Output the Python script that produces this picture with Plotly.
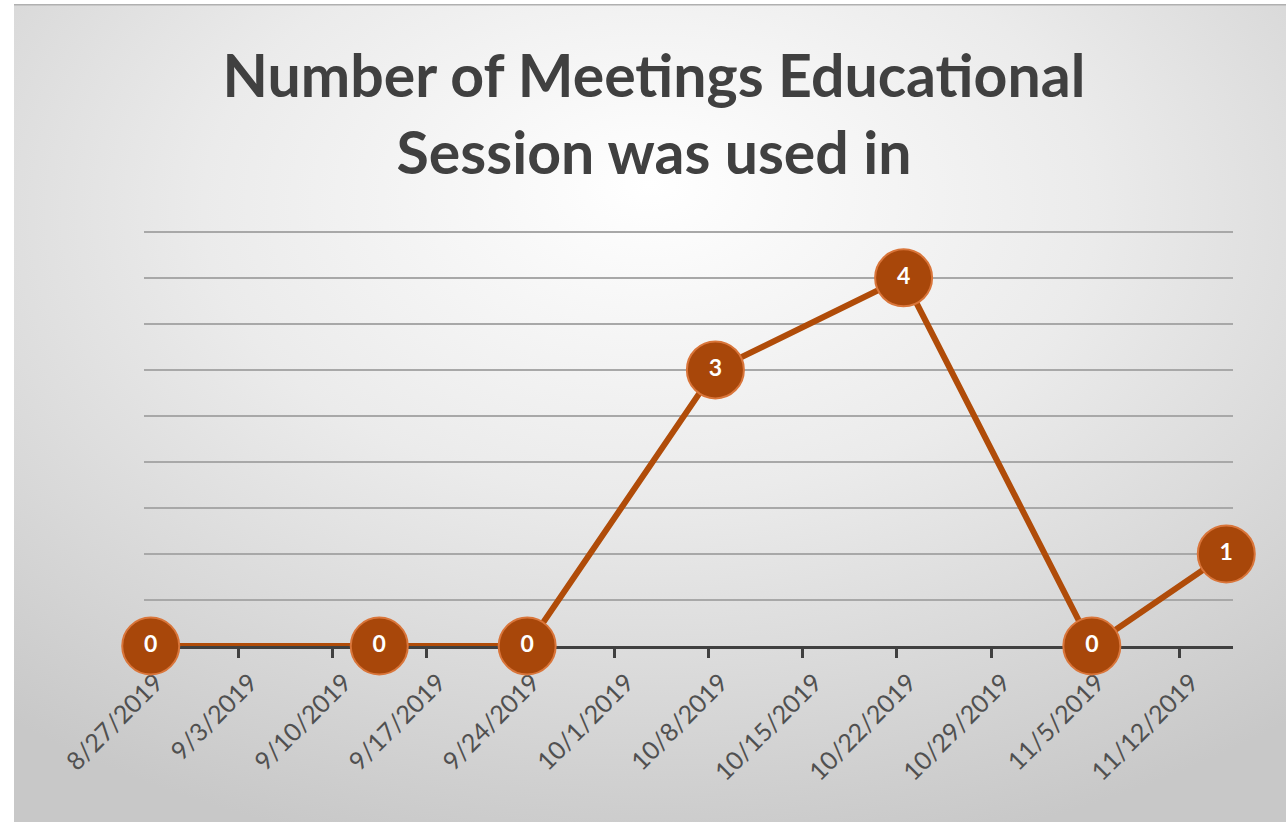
import base64
import pandas as pd
import plotly.graph_objects as go

# ---- data ----
dates = ["2019-08-27", "2019-09-13", "2019-09-24", "2019-10-08",
         "2019-10-22", "2019-11-05", "2019-11-15"]
meetings = [0, 0, 0, 3, 4, 0, 1]
tick_dates = ["2019-08-27", "2019-09-03", "2019-09-10", "2019-09-17",
              "2019-09-24", "2019-10-01", "2019-10-08", "2019-10-15",
              "2019-10-22", "2019-10-29", "2019-11-05", "2019-11-12"]
tick_labels = ["8/27/2019", "9/3/2019", "9/10/2019", "9/17/2019",
               "9/24/2019", "10/1/2019", "10/8/2019", "10/15/2019",
               "10/22/2019", "10/29/2019", "11/5/2019", "11/12/2019"]
title_text = "Number of Meetings Educational<br>Session was used in"

W, H = 1286, 822
Y_MAX = 4.52
L, R, B = 144, 53, 176
T = 232 - round((Y_MAX - 4.5) * 92)
pw, ph = W - L - R, H - T - B

# points sit in the middle of each day slot (Excel date axis)
x_pts = pd.to_datetime(dates) + pd.Timedelta(hours=12)
x_range = [pd.Timestamp("2019-08-27"), pd.Timestamp("2019-11-16")]

svg = f'''<svg xmlns="http://www.w3.org/2000/svg" width="{W-14}" height="{H-4}" viewBox="0 0 {W-14} {H-4}" preserveAspectRatio="none">
<defs><radialGradient id="g" cx="50%" cy="28%" r="78%" fx="50%" fy="22%">
<stop offset="0%" stop-color="#ffffff"/>
<stop offset="45%" stop-color="#ebebeb"/>
<stop offset="100%" stop-color="#c8c8c8"/>
</radialGradient></defs>
<rect x="0" y="0" width="{W-14}" height="{H-4}" fill="url(#g)"/>
<line x1="0" y1="0.75" x2="{W-14}" y2="0.75" stroke="#b0b0b0" stroke-width="1.5"/>
</svg>'''
bg_src = "data:image/svg+xml;base64," + base64.b64encode(svg.encode()).decode()

fig = go.Figure()
fig.add_trace(go.Scatter(
    x=x_pts, y=meetings,
    mode="lines+markers+text",
    line=dict(color="#b04c09", width=6),
    marker=dict(size=57, color="#a8470a", line=dict(color="#d9753a", width=2)),
    text=[str(v) for v in meetings],
    textposition="middle center",
    textfont=dict(family="Lato", size=23, color="white", weight="bold"),
    cliponaxis=False,
    hoverinfo="skip",
))

fig.update_layout(
    width=W, height=H,
    margin=dict(l=L, r=R, t=T, b=B),
    paper_bgcolor="white",
    plot_bgcolor="rgba(0,0,0,0)",
    showlegend=False,
    title=dict(text=title_text, x=654 / W, xref="container", xanchor="center",
               y=1 - 97 / H, yref="container", yanchor="middle",
               font=dict(family="Lato", size=59, color="#404040", weight="bold")),
    images=[dict(source=bg_src, xref="paper", yref="paper",
                 x=(14 - L) / pw, y=1 + (T - 4) / ph,
                 sizex=(W - 14) / pw, sizey=(H - 4) / ph,
                 xanchor="left", yanchor="top", sizing="stretch",
                 layer="below")],
    xaxis=dict(
        type="date", range=x_range,
        tickvals=pd.to_datetime(tick_dates), ticktext=tick_labels,
        tickangle=-45, tickfont=dict(family="Lato", size=25, color="#505050"),
        ticklabelshift=12, ticklabelstandoff=0,
        showgrid=False, zeroline=False,
        showline=True, linecolor="#404040", linewidth=3,
        ticks="outside", ticklen=9, tickwidth=3, tickcolor="#404040",
        layer="below traces", fixedrange=True,
    ),
    yaxis=dict(
        range=[0, Y_MAX], dtick=0.5, showticklabels=False,
        showgrid=True, gridcolor="#a8a8a8", gridwidth=2,
        zeroline=False, showline=False, ticks="",
        layer="below traces", fixedrange=True,
    ),
)

fig.write_html("out.html", config={"displayModeBar": False},
               post_script="document.body.style.margin='0';document.body.style.overflow='hidden';")
